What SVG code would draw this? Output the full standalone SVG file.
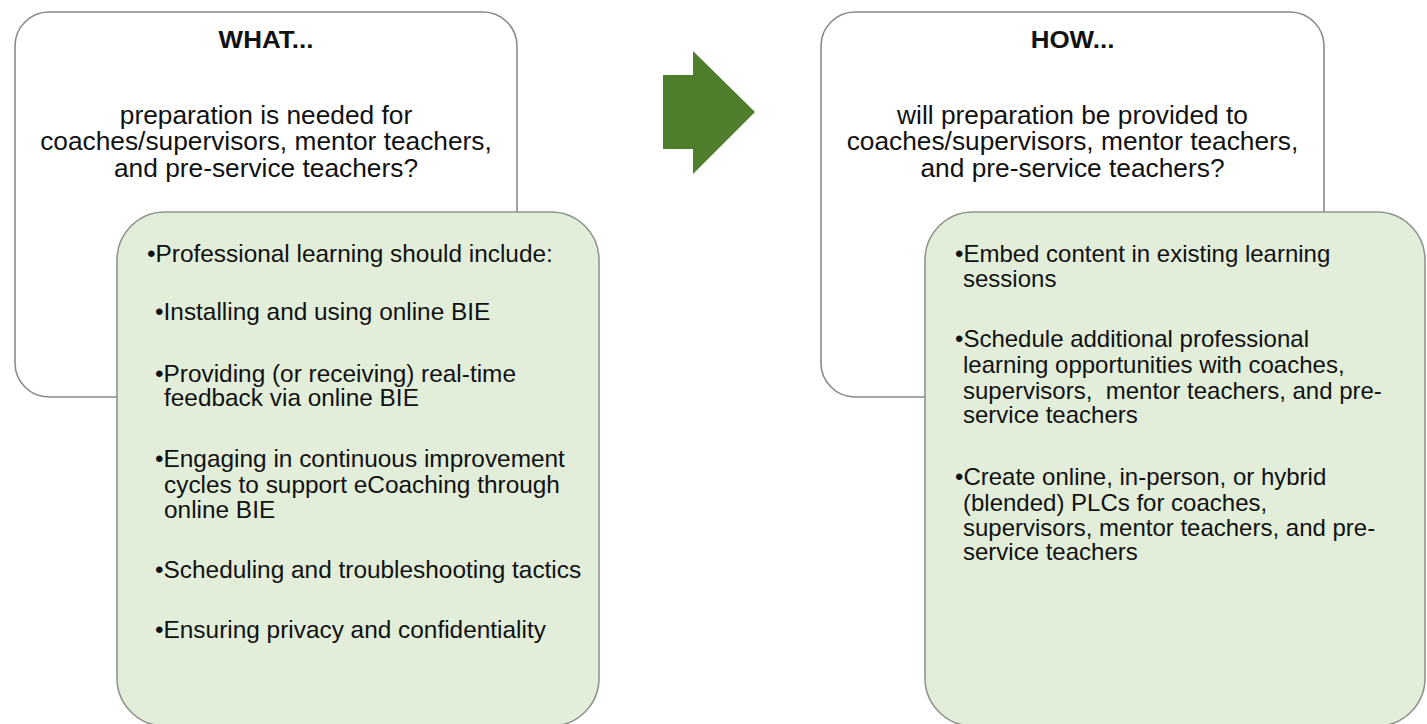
<svg xmlns="http://www.w3.org/2000/svg" width="1427" height="724" viewBox="0 0 1427 724">
<style>
.wbox{fill:#ffffff;stroke:#8a8a8a;stroke-width:1.6}
.gbox{fill:#e2eed9;stroke:#8f958b;stroke-width:1.6}
.hd{font-family:"Liberation Sans",Arial,sans-serif;font-weight:bold;font-size:23px;fill:#111;text-anchor:middle}
.q{font-family:"Liberation Sans",Arial,sans-serif;font-size:26.3px;fill:#111;text-anchor:middle}
.b{font-family:"Liberation Sans",Arial,sans-serif;font-size:24px;fill:#111}
.bl{font-size:24.4px}
</style>
<rect width="1427" height="724" fill="#ffffff"/>
<g id="what-box">
<rect class="wbox" x="15" y="12" width="502" height="385" rx="34" ry="34"/>
<text class="hd" transform="translate(266,48) scale(1.13,1)" x="0" y="0">WHAT...</text>
<text class="q" x="266" y="124">preparation is needed for</text>
<text class="q" x="266" y="150">coaches/supervisors, mentor teachers,</text>
<text class="q" x="266" y="177">and pre-service teachers?</text>
</g>
<g id="what-list">
<rect class="gbox" x="117" y="212" width="482" height="514" rx="48" ry="48"/>
<text class="b bl" x="147" y="262">•Professional learning should include:</text>
<text class="b bl" x="155" y="320">•Installing and using online BIE</text>
<text class="b bl" x="155" y="382">•Providing (or receiving) real-time</text>
<text class="b bl" x="164" y="406">feedback via online BIE</text>
<text class="b bl" x="155" y="467">•Engaging in continuous improvement</text>
<text class="b bl" x="164" y="493">cycles to support eCoaching through</text>
<text class="b bl" x="164" y="518">online BIE</text>
<text class="b bl" x="155" y="578">•Scheduling and troubleshooting tactics</text>
<text class="b bl" x="155" y="638">•Ensuring privacy and confidentiality</text>
</g>
<g id="connectors">
<polygon points="663,75 693,75 693,51 755,112 693,174 693,149 663,149" fill="#4e7d2c"/>
</g>
<g id="how-box">
<rect class="wbox" x="821" y="12" width="503" height="385" rx="34" ry="34"/>
<text class="hd" transform="translate(1072.5,48) scale(1.13,1)" x="0" y="0">HOW...</text>
<text class="q" x="1072.5" y="124">will preparation be provided to</text>
<text class="q" x="1072.5" y="150">coaches/supervisors, mentor teachers,</text>
<text class="q" x="1072.5" y="177">and pre-service teachers?</text>
</g>
<g id="how-list">
<rect class="gbox" x="925" y="212" width="500" height="514" rx="48" ry="48"/>
<text class="b" x="955" y="262">•Embed content in existing learning</text>
<text class="b" x="963" y="287">sessions</text>
<text class="b" x="955" y="347">•Schedule additional professional</text>
<text class="b" x="963" y="373">learning opportunities with coaches,</text>
<text class="b" x="963" y="399" xml:space="preserve">supervisors,  mentor teachers, and pre-</text>
<text class="b" x="963" y="423">service teachers</text>
<text class="b" x="955" y="485">•Create online, in-person, or hybrid</text>
<text class="b" x="963" y="511">(blended) PLCs for coaches,</text>
<text class="b" x="963" y="536">supervisors, mentor teachers, and pre-</text>
<text class="b" x="963" y="560">service teachers</text>
</g>
</svg>
